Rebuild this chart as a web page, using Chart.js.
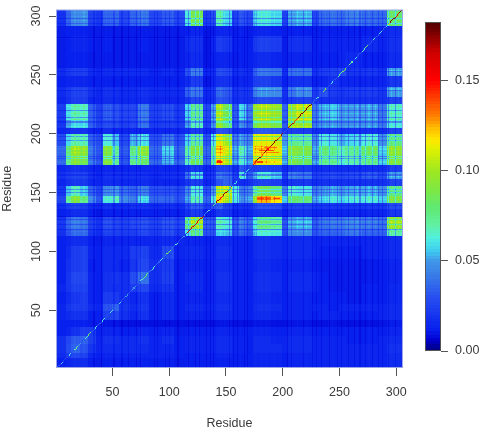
<!DOCTYPE html>
<html><head><meta charset="utf-8">
<script src="https://cdn.jsdelivr.net/npm/chart.js@4/dist/chart.umd.min.js"></script>
<style>html,body{margin:0;padding:0;background:#fff}
#wrap{position:relative;width:480px;height:428px}
canvas{position:absolute;left:0;top:0}</style></head>
<body><div id="wrap"><canvas id="map" width="480" height="428"></canvas><canvas id="bar" width="480" height="428"></canvas></div>
<script>
// First residue of each block (block ends where the next begins)
const blockStarts=[1,10,14,22,29,36,42,50,56,66,73,83,94,105,114,120,130,137,142,148,156,162,168,174,178,190,200,205,212,226,232,240,250,256,270,284,292];
const residueEnd=306;
// Values x 1000: one row per block of the y residue, one entry per block of the x residue
const matrix=[
[12,14,16,16,12,11,12,12,12,12,12,12,12,11,12,12,12,12,12,12,12,12,12,14,14,14,12,14,14,14,14,14,14,14,14,14,16],
[16,22,26,24,15,12,14,14,14,14,14,14,14,12,12,12,12,12,14,14,12,12,12,14,14,14,12,14,14,14,14,14,14,14,14,14,16],
[18,28,34,30,20,14,16,16,16,16,16,14,15,12,14,14,13,14,16,16,13,13,12,16,16,16,14,16,16,14,14,14,14,14,14,14,18],
[18,26,32,34,24,14,18,18,16,16,18,14,18,12,14,14,13,14,16,16,13,13,12,16,16,14,14,16,16,14,14,14,14,12,12,14,16],
[12,14,18,22,22,12,14,14,12,12,14,12,14,11,12,12,12,12,14,14,12,12,12,14,14,12,12,14,14,12,12,12,12,12,12,12,14],
[12,12,12,12,11,11,10,10,9,9,9,9,9,9,9,9,9,9,10,10,9,9,9,10,10,9,9,10,10,9,9,10,9,9,9,10,11],
[14,16,18,18,12,12,24,26,18,14,18,12,16,12,14,14,12,14,16,16,13,13,12,15,16,14,12,14,14,12,14,14,12,12,12,14,16],
[14,20,22,22,16,14,30,36,20,16,20,12,16,12,16,16,13,15,18,18,13,13,12,16,18,16,12,14,14,14,14,12,14,14,14,14,16],
[12,16,20,22,14,12,22,22,18,14,18,12,16,12,14,14,12,14,16,16,13,13,12,15,16,14,12,14,14,12,12,12,12,11,12,12,15],
[14,20,24,24,14,12,18,18,18,22,26,16,20,12,15,16,12,14,18,18,13,13,12,16,18,16,12,16,16,14,12,11,11,11,12,12,15],
[12,20,26,26,14,12,18,20,18,28,38,18,24,12,16,16,12,14,18,18,13,13,12,16,18,16,12,16,16,14,12,11,11,11,11,12,14],
[12,18,22,24,12,12,16,16,14,20,26,18,22,12,14,14,12,14,16,16,13,13,12,14,16,14,12,14,14,12,11,11,11,11,11,12,14],
[12,16,22,24,14,12,16,16,16,22,24,16,28,14,16,16,13,14,18,18,13,13,12,16,18,16,14,16,16,14,12,12,12,12,14,14,16],
[12,14,16,16,12,11,14,14,14,14,14,14,16,14,14,14,12,14,16,16,13,13,12,16,18,16,14,16,16,14,14,14,14,14,14,14,16],
[18,30,36,36,20,16,24,24,22,22,26,22,28,22,60,74,30,30,56,54,30,36,30,52,62,60,28,46,46,30,34,34,36,40,34,34,68],
[20,34,40,38,24,18,28,26,24,26,28,24,30,26,76,98,32,32,64,60,32,40,34,58,72,68,30,50,52,32,38,40,40,44,40,38,94],
[12,14,16,16,12,10,12,12,12,12,12,12,12,12,18,22,12,14,20,18,12,14,14,18,20,18,12,18,18,14,14,14,14,14,14,14,20],
[16,22,24,22,16,14,18,16,16,18,18,16,18,16,26,32,22,30,34,24,16,18,18,24,30,28,18,24,24,20,20,20,20,20,20,20,28],
[25,70,86,72,45,30,60,65,45,40,55,35,35,30,50,65,35,60,112,100,60,45,50,92,124,116,55,80,76,50,55,60,55,60,60,55,85],
[20,55,65,55,35,25,45,50,38,34,42,30,30,28,45,62,30,50,105,108,62,40,44,70,85,78,44,65,60,42,48,52,48,52,52,48,75],
[14,18,20,20,15,14,16,16,15,15,16,14,14,14,20,22,14,18,30,34,20,16,18,22,24,22,14,20,20,16,18,18,18,18,18,18,24],
[18,22,24,24,18,15,18,18,18,18,18,16,18,18,40,58,18,22,40,36,24,60,34,48,62,54,22,44,40,24,26,28,26,28,32,28,50],
[14,16,18,16,14,12,14,14,14,14,14,14,14,14,18,20,14,16,24,24,16,30,24,22,24,22,14,20,20,16,16,16,16,16,16,16,22],
[35,70,85,80,40,30,85,70,30,70,75,35,50,35,65,80,35,70,118,100,50,60,50,120,112,108,50,85,80,50,70,70,60,65,70,55,85],
[35,75,92,88,40,30,86,70,32,72,88,35,55,35,68,85,35,72,116,105,50,65,50,112,115,110,52,90,85,50,75,72,65,70,78,55,90],
[28,58,68,66,35,28,62,55,28,52,58,30,40,30,58,72,30,62,112,100,42,50,44,108,112,108,50,75,72,45,62,60,52,58,62,48,75],
[14,16,18,18,14,12,16,14,14,14,14,14,14,14,18,22,14,18,30,28,16,18,18,30,32,30,20,24,22,16,18,18,16,18,18,16,24],
[20,50,56,56,34,24,28,28,24,26,38,22,24,22,50,66,24,48,92,78,30,45,35,82,92,86,32,98,96,40,48,50,46,48,48,40,60],
[22,58,66,64,34,24,32,30,26,26,40,24,28,22,56,72,26,50,100,84,32,56,40,92,100,94,34,96,104,40,52,55,48,50,50,40,64],
[14,18,22,22,15,14,16,16,15,15,16,14,14,14,20,26,14,18,30,28,16,18,18,24,28,26,16,22,24,22,18,18,18,18,18,18,24],
[16,20,24,24,18,15,18,18,16,16,18,16,16,16,34,40,15,20,36,32,18,20,20,40,48,46,18,40,46,22,30,22,20,22,22,20,50],
[12,14,14,14,12,12,12,12,12,12,12,12,12,12,16,22,10,14,18,18,12,14,14,22,24,20,12,18,18,12,14,18,14,14,14,14,20],
[16,20,22,22,16,14,16,16,16,16,16,14,16,14,30,42,14,16,28,26,16,18,16,32,40,38,16,38,38,18,22,24,28,20,20,18,50],
[11,12,12,12,11,11,11,11,11,11,11,11,11,11,14,16,10,12,14,14,11,12,12,14,16,14,11,14,14,12,12,12,14,16,12,12,16],
[11,12,14,14,12,11,12,11,11,11,12,11,11,11,16,18,10,14,22,20,12,12,12,20,24,22,11,18,18,12,14,14,14,14,16,14,18],
[11,12,12,12,11,11,11,11,11,11,11,11,11,11,12,14,10,11,14,14,11,12,11,12,14,12,11,12,12,11,12,12,12,12,12,14,16],
[18,34,44,46,24,20,34,36,26,34,38,26,32,26,60,84,22,28,66,56,24,30,26,52,60,56,24,50,52,26,36,38,36,42,36,36,78]
];
// Thin darker and brighter lines seen inside the blocks (residue numbers)
const darkCols=[33,34,40,51,52,58,59,64,71,75,87,90,97,100,107,108,117,123,127,133,136,139,153,157,160,166,169,204,208,218,226,230,234,241,248,252,258,263,268,273,279,284,288,293,299];
const brightCols=[17,20,25,45,48,68,76,80,103,112,120,126,145,149,163,176,181,186,193,213,221,238,244,255,266,276,282,296,302];
const darkRows=[119,123,127,130,139,150,153,165,179,181,194,198,210,214,220,237,253,282,294,298];
const brightRows=[117,121,125,144,146,164,176,184,187,189,206,212,217,223,238,254,281,296,300,303];
const darkFactor=0.75, brightFactor=1.08;
// Hot streaks inside the central blocks: y residue, first x, last x, value x 1000
const spotRows=[188,186,184,176,145,145,145,177,176];
const spotFrom=[184,180,186,178,178,185,192,143,143];
const spotTo=[194,192,196,182,183,189,197,145,146];
const spotValues=[132,138,130,140,140,138,140,140,145];
// Diagonal: runs of equal value, x 1000
const diagStarts=[1,5,7,12,14,17,20,23,26,29,32,35,37,41,44,48,51,56,58,62,64,68,71,75,78,82,85,88,92,95,98,102,106,108,112,114,116,131,134,136,139,142,145,148,152,155,158,160,163,165,168,171,174,177,181,184,187,190,196,199,201,205,210,214,226,230,232,236,239,243,245,249,253,256,259,262,264,266,270,273,276,280,282,285,288,291,293,295,300,303];
const diagValues=[30,55,25,60,30,70,50,30,65,85,30,60,30,60,30,60,35,60,30,50,30,50,30,65,80,40,65,35,60,35,85,35,65,25,50,20,165,40,60,30,80,170,150,175,40,30,60,30,75,30,60,30,150,175,140,175,150,175,140,175,30,170,140,175,35,60,30,85,30,60,30,70,85,30,70,30,60,30,65,85,30,65,30,60,30,60,120,175,150,175];
const xTicks=[50,100,150,200,250,300];
const yTicks=[50,100,150,200,250,300];
const barTicks=[0,0.05,0.10,0.15];
const barMax=0.1823;
const barLevels=100;
const xTitle='Residue', yTitle='Residue';
const colorStops=[[0,'#00007a'],[.006,'#0000d0'],[.012,'#0820ee'],[.03,'#2850f0'],[.043,'#3a80e8'],[.05,'#4098e8'],[.056,'#40d0f0'],[.0625,'#50f0e0'],[.07,'#60f0a0'],[.08,'#60e870'],[.09,'#80e840'],[.10,'#a0e820'],[.112,'#e0f000'],[.117,'#ffe800'],[.123,'#ffc000'],[.13,'#ff8000'],[.145,'#ff2000'],[.15,'#ff0000'],[.165,'#d00000'],[.182,'#500000']];

function hex(c){return [1,3,5].map(i=>parseInt(c.substr(i,2),16));}
const stopRgb=colorStops.map(s=>hex(s[1]));
function colorOf(v){
  for(let i=1;i<colorStops.length;i++){
    if(v<=colorStops[i][0]){
      const a=colorStops[i-1][0],b=colorStops[i][0],t=(v-a)/(b-a),p=stopRgb[i-1],q=stopRgb[i];
      return 'rgb('+Math.round(p[0]+(q[0]-p[0])*t)+','+Math.round(p[1]+(q[1]-p[1])*t)+','+Math.round(p[2]+(q[2]-p[2])*t)+')';
    }
  }
  return colorStops[colorStops.length-1][1];
}
function blockOf(r){let b=0;while(b+1<blockStarts.length&&blockStarts[b+1]<=r)b++;return b;}
function lineFactor(r,dark,bright){return dark.includes(r)?darkFactor:bright.includes(r)?brightFactor:1;}
function cell(xr,yr,v){return {x0:xr-.5,x1:xr+.5,y0:yr-.5,y1:yr+.5,v};}
const cells=[];
for(let yr=1;yr<residueEnd;yr++){
  const row=matrix[blockOf(yr)],fy=lineFactor(yr,darkRows,brightRows);
  for(let xr=1;xr<residueEnd;xr++){
    const fx=lineFactor(xr,darkCols,brightCols);
    cells.push(cell(xr,yr,row[blockOf(xr)]/1000*fx*fy));
  }
}
spotRows.forEach((yr,i)=>{for(let xr=spotFrom[i];xr<=spotTo[i];xr++)cells.push(cell(xr,yr,spotValues[i]/1000));});
diagStarts.forEach((s,i)=>{
  const e=diagStarts[i+1]||residueEnd;
  for(let k=s;k<e;k++) cells.push(cell(k,k,diagValues[i]/1000));
});
const barCells=[];
for(let i=0;i<barLevels;i++){
  const lo=barMax*i/barLevels,hi=barMax*(i+1)/barLevels;
  barCells.push({x0:0,x1:1,y0:lo,y1:hi,v:(lo+hi)/2});
}
const cellPlugin={id:'cells',beforeDatasetsDraw(chart){
  const {ctx,chartArea:a}=chart,xs=chart.scales.x,ys=chart.scales.y,opt=chart.options.plugins.cells;
  const off=document.createElement('canvas');off.width=chart.width;off.height=chart.height;
  const o=off.getContext('2d');
  for(const c of chart.data.datasets[0].cells){
    const l=Math.round(xs.getPixelForValue(c.x0)),r=Math.round(xs.getPixelForValue(c.x1));
    const t=Math.round(ys.getPixelForValue(c.y1)),b=Math.round(ys.getPixelForValue(c.y0));
    o.fillStyle=colorOf(c.v);
    o.fillRect(l,t,Math.max(1,r-l),Math.max(1,b-t));
  }
  ctx.save();
  ctx.beginPath();ctx.rect(a.left,a.top,a.right-a.left,a.bottom-a.top);ctx.clip();
  ctx.drawImage(off,0,0);
  if(opt.blur){ctx.filter='blur('+opt.blur+'px)';ctx.drawImage(off,0,0);ctx.filter='none';}
  ctx.restore();
  ctx.strokeStyle=opt.frame;ctx.lineWidth=1;
  ctx.strokeRect(a.left+.5,a.top+.5,a.right-a.left-1,a.bottom-a.top-1);
}};
const font={family:'"Liberation Sans",Arial,sans-serif',size:12.5};
const ink='#3a3a3a';
new Chart(document.getElementById('map'),{
  type:'scatter',
  data:{datasets:[{data:[],cells,pointRadius:0}]},
  plugins:[cellPlugin],
  options:{responsive:false,animation:false,
    layout:{padding:{left:0,right:77,top:4,bottom:0}},
    plugins:{legend:{display:false},tooltip:{enabled:false},cells:{frame:'#9aa6e6',blur:0.5}},
    scales:{
      x:{type:'linear',min:0.3,max:305.9,
        afterBuildTicks(s){s.ticks=xTicks.map(v=>({value:v}));},
        afterFit(s){s.height=60;},
        grid:{drawOnChartArea:false,tickColor:'#555',tickLength:8,drawTicks:true},border:{display:false},
        ticks:{font,color:ink,padding:9,maxRotation:0,minRotation:0,autoSkip:false},
        title:{display:true,text:xTitle,font,color:ink,padding:{top:0,bottom:-3}}},
      y:{type:'linear',min:1,max:305.6,
        afterBuildTicks(s){s.ticks=yTicks.map(v=>({value:v}));},
        afterFit(s){s.width=56;},
        grid:{drawOnChartArea:false,tickColor:'#555',tickLength:7,drawTicks:true},border:{display:false},
        ticks:{font,color:ink,padding:2,minRotation:90,maxRotation:90,crossAlign:'center',autoSkip:false},
        title:{display:true,text:yTitle,font,color:ink,padding:{top:0,bottom:0}}}
    }}
});
new Chart(document.getElementById('bar'),{
  type:'scatter',
  data:{datasets:[{data:[],cells:barCells,pointRadius:0}]},
  plugins:[cellPlugin],
  options:{responsive:false,animation:false,
    layout:{padding:{left:425,right:0,top:22,bottom:77}},
    plugins:{legend:{display:false},tooltip:{enabled:false},cells:{frame:'#555',blur:0}},
    scales:{
      x:{type:'linear',min:0,max:1,display:false},
      y:{type:'linear',position:'right',min:0,max:barMax,
        afterBuildTicks(s){s.ticks=barTicks.map(v=>({value:v}));},
        afterFit(s){s.width=39;},
        grid:{drawOnChartArea:false,tickColor:'#555',tickLength:7,drawTicks:true},border:{display:false},
        ticks:{font,color:ink,padding:7,autoSkip:false,callback:v=>v.toFixed(2)}}
    }}
});
</script></body></html>
